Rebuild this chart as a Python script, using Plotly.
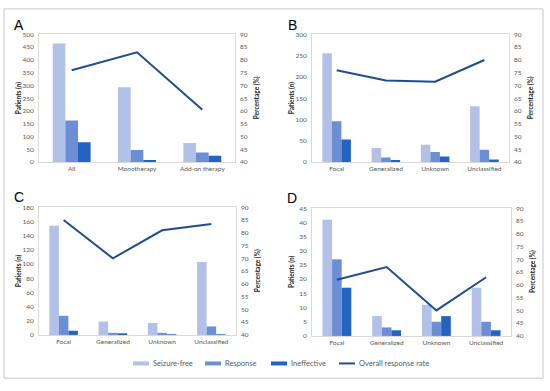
import plotly.graph_objects as go

# ---- data ----
cats_A = ["All", "Monotherapy", "Add-on therapy"]
sf_A = [465, 293, 75]
resp_A = [163, 47, 38]
ineff_A = [78, 8, 25]
rate_A = [76, 83, 60.5]

cats_BCD = ["Focal", "Generalized", "Unknown", "Unclassified"]
sf_B = [256, 33, 41, 131]
resp_B = [96, 11, 24, 29]
ineff_B = [53, 5, 13, 6]
rate_B = [76, 72, 71.5, 80]

sf_C = [154, 19, 17, 103]
resp_C = [27, 3, 3, 12]
ineff_C = [6, 1, 0.5, 0.5]
rate_C = [85, 70, 81, 83.5]

sf_D = [41, 7, 11, 17]
resp_D = [27, 3, 5, 5]
ineff_D = [17, 2, 7, 2]
rate_D = [62, 67, 50, 63]

series_names = ["Seizure-free", "Response", "Ineffective", "Overall response rate"]
left_ranges = {"A": (500, 50), "B": (300, 50), "C": (180, 20), "D": (45, 5)}
right_range = (40, 90, 5)

C_SF = "#b1c1e7"
C_RESP = "#6b8ed5"
C_INEF = "#2364c3"
C_LINE = "#1f4e8c"
GRID = "#d9d9d9"
TICK = "#595959"
FONT = "Lato"

W, H = 550, 391
def px(x): return x / W
def py(y): return 1 - y / H

panels = [
    ("A", cats_A, sf_A, resp_A, ineff_A, rate_A, (39, 235), (31, 161)),
    ("B", cats_BCD, sf_B, resp_B, ineff_B, rate_B, (312, 509), (31, 161)),
    ("C", cats_BCD, sf_C, resp_C, ineff_C, rate_C, (39, 236), (207, 337)),
    ("D", cats_BCD, sf_D, resp_D, ineff_D, rate_D, (312, 511), (208, 338)),
]

fig = go.Figure()
layout = {}
annotations = []

def ann(text, x, y, size, color, family=FONT, angle=0, xanchor="center"):
    return dict(text=text, x=px(x), y=py(y), xref="paper", yref="paper", textangle=angle,
                xanchor=xanchor, yanchor="middle", showarrow=False,
                font=dict(size=size, color=color, family=family))

for i, (lab, cats, sf, rp, ie, rt, xr, yr) in enumerate(panels):
    xn = i + 1
    yl = 2 * i + 1
    yrn = 2 * i + 2
    xs = "x" if xn == 1 else f"x{xn}"
    yls = "y" if yl == 1 else f"y{yl}"
    yrs = f"y{yrn}"
    for vals, col, nm in [(sf, C_SF, series_names[0]), (rp, C_RESP, series_names[1]), (ie, C_INEF, series_names[2])]:
        fig.add_trace(go.Bar(x=cats, y=vals, marker=dict(color=col, line=dict(width=0)),
                             name=nm, xaxis=xs, yaxis=yls, showlegend=False))
    fig.add_trace(go.Scatter(x=cats, y=rt, mode="lines", line=dict(color=C_LINE, width=2),
                             name=series_names[3], xaxis=xs, yaxis=yrs, showlegend=False))
    xk = "xaxis" if xn == 1 else f"xaxis{xn}"
    ylk = "yaxis" if yl == 1 else f"yaxis{yl}"
    yrk = f"yaxis{yrn}"
    top, step = left_ranges[lab]
    layout[xk] = dict(domain=[px(xr[0]), px(xr[1])], anchor=yls, type="category",
                      range=[-0.5, len(cats) - 0.5], showline=True, mirror=True,
                      linecolor=GRID, linewidth=1, showgrid=False, ticks="",
                      tickfont=dict(size=6.5, color=TICK, family=FONT), zeroline=False)
    layout[ylk] = dict(domain=[py(yr[1]), py(yr[0])], anchor=xs, range=[0, top], dtick=step,
                       tick0=0, showline=True, mirror=True, linecolor=GRID, linewidth=1,
                       showgrid=False, zeroline=False, ticks="", ticklabelstandoff=3,
                       tickfont=dict(size=6.5, color=TICK, family=FONT))
    layout[yrk] = dict(overlaying=yls, side="right", anchor=xs, range=[right_range[0], right_range[1]],
                       dtick=right_range[2], tick0=40, showgrid=False, zeroline=False, showline=False,
                       ticks="", ticklabelstandoff=4,
                       tickfont=dict(size=6.5, color=TICK, family=FONT))
    ymid = (yr[0] + yr[1]) / 2
    annotations.append(ann("<b>Patients (n)</b>", xr[0] - 21, ymid, 6.5, "#262626", angle=-90))
    annotations.append(ann("<b>Percentage (%)</b>", xr[1] + 21, ymid, 6.5, "#262626", angle=-90))
    annotations.append(ann(lab, xr[0] - 20, yr[0] - 10, 14, "#000000", family="Liberation Sans"))

# custom legend (wide swatches like the original)
shapes = [dict(type="rect", xref="paper", yref="paper", x0=px(4), x1=px(543), y0=py(381), y1=py(5),
               line=dict(color="#c8c8c8", width=1), fillcolor="rgba(0,0,0,0)")]
leg_items = [(series_names[0], C_SF, 133, 4), (series_names[1], C_RESP, 205, 4),
             (series_names[2], C_INEF, 271, 4), (series_names[3], C_LINE, 339, 2)]
ly = 366
for nm, col, x0, wdt in leg_items:
    shapes.append(dict(type="line", xref="paper", yref="paper", x0=px(x0), x1=px(x0 + 16), y0=py(ly), y1=py(ly),
                       line=dict(color=col, width=wdt)))
    annotations.append(ann(nm, x0 + 18, ly, 7.5, TICK, xanchor="left"))

fig.update_layout(**layout)
fig.update_layout(width=W, height=H, margin=dict(l=0, r=0, t=0, b=0), barmode="group",
                  bargap=0.42, bargroupgap=0, plot_bgcolor="white", paper_bgcolor="white",
                  annotations=annotations, shapes=shapes, showlegend=False,
                  font=dict(family=FONT))
fig.write_html("out.html", config={"displayModeBar": False},
               post_script="document.body.style.margin='0';")
